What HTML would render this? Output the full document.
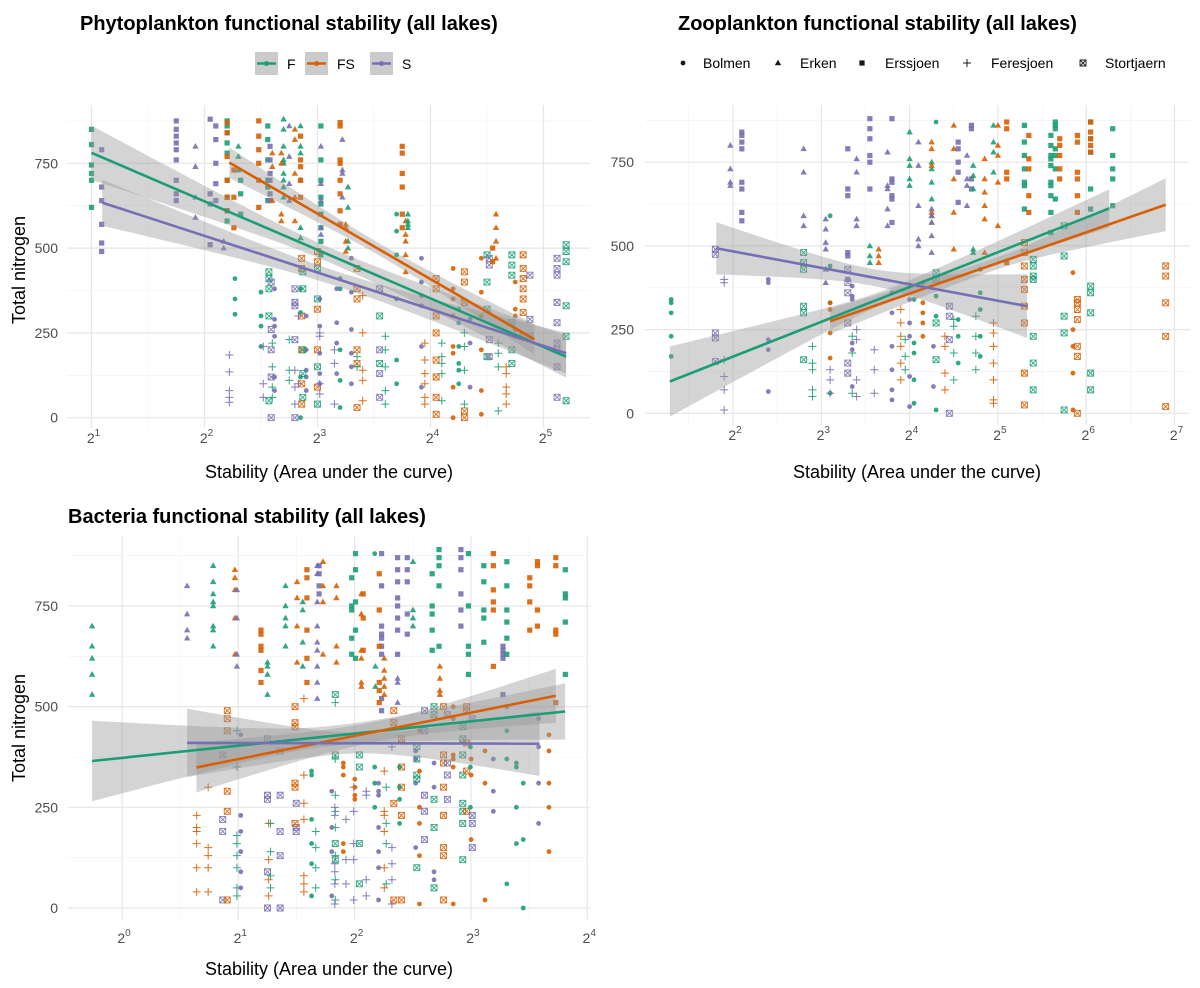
<!DOCTYPE html>
<html><head><meta charset="utf-8"><title>Functional stability vs total nitrogen</title>
<style>
html,body{margin:0;padding:0;background:#fff;}
svg{display:block;font-family:"Liberation Sans",Arial,sans-serif;}
</style></head>
<body>
<svg id="chart" width="1200" height="988" viewBox="0 0 1200 988" xmlns="http://www.w3.org/2000/svg">
<rect x="0" y="0" width="1200" height="988" fill="#ffffff"/>
<text x="80" y="30" font-size="20" font-weight="bold" fill="#000">Phytoplankton functional stability (all lakes)</text>
<text x="678" y="30" font-size="20" font-weight="bold" fill="#000">Zooplankton functional stability (all lakes)</text>
<text x="68" y="523" font-size="20" font-weight="bold" fill="#000">Bacteria functional stability (all lakes)</text>
<g id="legend1"></g>
<g id="legend2"></g>
<g id="p1"></g>
<g id="p2"></g>
<g id="p3"></g>
</svg>
<script>
// ---- data ----
const groupNames = ["F","FS","S"];
const groupColors = ["#1b9e77","#d95f02","#7570b3"];
const lakeNames = ["Bolmen","Erken","Erssjoen","Feresjoen","Stortjaern"];
const yTicks = [0,250,500,750];
// columns: [log2 stability, group, lake, [total nitrogen values]]
const phytoColumns = [
[1.0,0,2,[850,805,745,720,700,620]],[1.09,2,2,[790,680,640,570,515,490]],
[1.75,2,2,[875,850,830,810,790,760,700,660,640]],[1.92,2,1,[800,740,650,590]],
[2.05,2,2,[880,660,630,510]],[2.1,2,2,[860,820,750,690,640]],[2.17,2,1,[520,500]],
[2.2,0,2,[875,860,840,810,780,700,650,610,580]],[2.2,1,2,[870,840,770,700,650,610]],
[2.3,0,1,[800,770,730]],[2.26,1,2,[730,650,560]],[2.27,0,0,[410,350,305]],
[2.22,2,3,[185,135,80,60,45]],[2.32,0,2,[700,660,600]],[2.48,1,2,[875,830,790,750,700,620]],
[2.5,0,0,[370,300,270,210]],[2.52,2,3,[210,100,60]],[2.56,0,2,[860,820,760,700,680,640]],
[2.58,2,2,[800,760,720,700,660,640]],[2.6,1,1,[780,740,640]],[2.57,0,4,[430,410,380,300,50]],
[2.59,2,4,[400,260,200,120,0]],[2.62,2,0,[380,290,270,240,120,80]],[2.6,0,3,[220,150,90,60]],
[2.7,0,1,[880,850,800,760,750,720,700,680,650]],[2.68,1,1,[780,750,600,580]],
[2.75,2,1,[860,770,690,640]],[2.75,0,3,[230,140,110]],[2.8,2,3,[140,90,40]],
[2.8,1,1,[850,820,720,650,580]],[2.85,0,1,[860,800,780,700,560,530]],
[2.85,1,2,[830,760,740,700,650]],[2.86,1,4,[470,440,300,200,100,40]],
[2.8,2,4,[380,340,330,230,0]],[2.85,0,0,[380,310,120,0]],[2.9,2,0,[300,200,140,120,80]],
[2.87,0,4,[430,380,200,130,60]],[2.83,2,3,[300,100]],
[3.03,0,2,[860,760,700,650,630,600,560,520,480]],[3.0,0,4,[440,350,150,40]],
[3.0,1,4,[490,460,320,200,90]],[3.02,2,0,[350,270,190,130,100]],[3.02,2,3,[250,240,100,70]],
[3.03,2,1,[800,690,640,560,540]],[3.2,1,2,[870,860,760,750,700,660,610,570]],
[3.22,2,1,[820,730,720,650]],[3.27,0,1,[680,620,520,500]],[3.25,1,1,[570,560,520,490]],
[3.15,2,3,[200,160,40]],[3.2,0,0,[410,380,200,110,30]],[3.17,2,0,[380,280,220,130]],
[3.3,2,0,[470,370,260,190,150,100]],[3.35,1,4,[440,380,350,200,160,30]],[3.35,0,3,[180,150]],
[3.4,1,3,[360,250,140,110,50]],[3.55,0,4,[300,160]],[3.55,2,4,[380,200,130,60]],
[3.6,0,3,[240,200,150,80,40]],[3.7,0,0,[600,550,480,350,170,100]],
[3.75,1,2,[800,780,720,680,600,560]],[3.78,1,1,[580,540,520,480,430]],[3.8,0,1,[600,580,570,560]],
[3.92,2,0,[470,400,360,330,210,90]],[3.95,1,3,[220,170,130,100,60,40]],
[4.05,1,4,[410,380,300,250,170,120,60,10]],[4.1,0,3,[220,180,160,130,50]],
[4.2,1,0,[440,380,350,300,210,190,90,0]],[4.25,0,0,[320,280,210,160,140,100]],
[4.3,1,4,[430,400,340,20,0]],[4.3,0,3,[250,210,140,40]],[4.35,2,0,[290,220,90]],
[4.45,1,0,[470,370,300,200,80,10]],[4.5,0,4,[480,400,320,180]],[4.52,2,4,[470,450,230,180]],
[4.55,1,2,[500,460]],[4.58,1,1,[600,560,520,470]],[4.6,0,3,[220,190,150,20]],
[4.67,1,3,[150,130,90,70,40]],[4.72,0,4,[480,450,420,280,200,160]],[4.75,1,0,[400,320,300,260,240]],
[4.82,1,4,[480,440,410,380,350,310,240]],[4.88,2,4,[420,290,240]],
[5.12,2,4,[470,440,420,340,280,220,200,150,60]],[5.2,0,4,[510,490,460,330,240,50]]
];
const zooColumns = [
[1.3,0,0,[340,330,300,230,170]],[1.8,2,4,[490,475,240,225,155]],[1.9,2,3,[400,390,160,110,70,10]],
[1.97,2,1,[800,730,690,680]],[2.1,2,2,[840,830,810,790,690,670,600,575]],[2.4,2,0,[400,390,220,190,65]],
[2.8,2,1,[790,720,590,560]],[2.8,0,4,[480,450,430,320,300,160]],[2.9,0,3,[200,150,130,70,50]],
[3.05,2,1,[580,550,510,490,430,390]],[3.1,0,0,[590,440,330,60]],[3.1,1,0,[330,310,240,165]],
[3.1,2,3,[130,100,60]],[3.3,2,2,[790,670,650,480,470,400]],[3.3,2,4,[430,390,360,270,150,120]],
[3.35,0,3,[230,180,60]],[3.4,2,3,[250,220,100,50]],[3.4,2,1,[760,720,580,560]],
[3.35,2,0,[380,350,340,210,190,80]],[3.55,2,2,[880,850,820,770,750,670]],[3.55,0,1,[500,470,450]],
[3.65,1,1,[490,470,450]],[3.6,2,3,[190,130,60]],[3.8,2,0,[360,300,200,130,70,40]],
[3.8,2,2,[880,700,690,650,640,570]],[3.75,2,1,[780,680,670,610,560]],[3.9,1,3,[310,270,230,200,150,100]],
[3.95,0,3,[220,170,130]],[4.05,0,0,[340,210,180,100,30]],[4.0,2,0,[340,270,230,110,20]],
[4.0,0,1,[840,760,740,700,680]],[4.1,2,1,[810,740,620,520,500]],[4.15,1,0,[390,330,300,270,230]],
[4.3,0,4,[420,400,270,160]],[4.25,0,1,[750,730,690,640,590]],[4.25,1,1,[810,790,740,600,570]],
[4.25,2,1,[610,590,570,530,480]],[4.3,0,0,[870,350,290,10]],[4.4,1,3,[230,200,120,70]],
[4.45,2,4,[320,290,220,0]],[4.27,2,0,[200,80]],[4.5,1,1,[860,790,700,600,490]],
[4.5,0,3,[280,260,180,100]],[4.55,2,2,[810,790,750,720,630]],[4.55,0,0,[280,230,150]],
[4.7,2,2,[860,850,700,670]],[4.72,0,1,[740,710,670,490,480]],[4.65,2,1,[770,700,680,620]],
[4.85,1,1,[760,700,660,620,580,480]],[4.8,0,0,[430,360,310,230,170]],[4.75,0,3,[290,230,180,130]],
[5.0,1,1,[860,800,770,690,560]],[4.95,0,1,[860,810,780,720]],[4.95,1,3,[270,240,200,150,100,40,30]],
[5.1,1,2,[870,850,720,700,450]],[5.3,0,2,[860,810,770,730,690,680,610]],
[5.35,1,2,[830,760,730,650,600]],[5.3,1,4,[510,480,440,400,370,320,270,120,25]],
[5.4,0,4,[460,440,410,400,230,150,70]],[5.6,0,2,[830,800,770,760,740,690,680,650,600,540]],
[5.65,0,2,[870,860,850,790,770,730,640]],[5.7,1,2,[820,800,770,730,700]],
[5.75,0,4,[560,470,290,240,10]],[5.85,1,0,[420,250,200,120,10]],[5.9,1,2,[830,810,720,700,650,600]],
[5.9,1,4,[340,330,310,280,200,170,0]],[6.05,0,2,[870,820,780,670,610]],
[6.05,1,2,[870,840,820,800,780]],[6.05,0,4,[380,360,300,120,70]],[6.3,0,2,[850,770,730,700,620]],
[6.9,1,4,[440,410,330,230,20]]
];
const bactColumns = [
[-0.257,0,1,[700,650,620,580,530]],[0.56,2,1,[800,730,690,670]],[0.784,0,1,[850,810,780,760,750,700,690,650]],
[0.642,1,3,[230,200,190,160,100,40]],[0.741,1,3,[300,150,130,100,40]],[0.866,2,4,[380,220,190,20]],
[0.905,1,4,[490,470,440,290,240,20]],[0.971,1,1,[840,820,790,720,630]],[0.988,2,1,[790,720,630,600]],
[0.988,0,3,[440,350,180,160,130,100,50,30]],[1.021,2,0,[430,230,190,140,90,50]],
[1.195,1,2,[690,680,650,640,590,560]],[1.251,0,1,[610,600,580,530]],[1.251,2,4,[420,280,270,90,0]],
[1.261,1,3,[210,120,70,30]],[1.277,0,3,[210,140,80,50]],[1.36,2,4,[390,280,190,130,0]],
[1.406,0,1,[800,750,720,700,650]],[1.505,1,1,[810,770,700,610]],[1.498,2,4,[260,200,190]],
[1.488,1,4,[500,460,450,310,300,210]],[1.554,0,1,[760,740,660,600]],[1.59,1,2,[840,820,770,690,620,560]],
[1.564,1,3,[520,330,260,220,80,60,40]],[1.63,0,0,[340,330,220,160,110,30]],[1.666,0,3,[190,150,100,50]],
[1.679,2,1,[850,830,760,700,660,640,600,560,520]],[1.695,2,2,[850,830,800,780]],
[1.728,1,1,[860,800,760,630]],[1.834,0,3,[510,370,280,240,200,130,70,20]],[1.804,2,0,[290,200,140,30]],
[1.844,1,1,[800,770,650,610]],[1.83,2,3,[250,230,110,90,60,10]],[1.834,0,4,[530,380,160,120]],
[1.903,1,0,[360,350,330,160,140]],[1.926,2,3,[220,120,60]],[1.975,0,2,[820,750,740,670,630]],
[2.008,0,2,[880,840,760,690,620]],[1.992,2,3,[300,240,160,120,20]],[2.002,1,0,[320,300,280,270]],
[2.041,0,4,[380,350,160,60]],[2.058,1,1,[780,730,640,620,560,550]],[2.074,1,2,[780,720,640]],
[2.1,2,3,[290,280,70,30]],[2.173,0,0,[880,350,310,250]],[2.179,0,1,[600,550]],
[2.232,2,2,[880,800,700,680,670,650,630,520,490]],[2.212,1,2,[830,740,650,560,540,510]],
[2.255,1,1,[620,590,570,550,530]],[2.206,2,0,[310,290,280,200,140,100,20]],
[2.255,1,3,[340,240,230,190,100,50]],[2.272,0,3,[300,210,160,60]],[2.321,2,3,[400,150,110,70,10]],
[2.37,2,2,[870,840,810,770,750,720,690,630]],[2.37,2,1,[570,560,510]],[2.337,1,4,[490,460,260,20]],
[2.403,1,4,[420,350,300,230,20]],[2.387,0,0,[350,300,270,210]],[2.502,0,1,[860,740,720,700]],
[2.453,2,2,[870,840,810,730,680]],[2.535,0,4,[400,370,330,320,100]],[2.525,2,0,[370,390,310,150]],
[2.558,1,0,[440,340,250,210,130,10]],[2.667,0,2,[830,750,730,690,640]],[2.683,0,4,[500,480,270,200,50]],
[2.601,2,4,[490,440,280,240,170]],[2.683,2,0,[360,300,90,70]],[2.726,0,2,[890,870,850,800,650]],
[2.733,1,1,[600,570,540,530]],[2.765,1,4,[500,380,360,300,230,150,130,20]],[2.798,2,4,[480,360,330,270]],
[2.848,1,0,[500,470,380,370,350,10]],[2.914,2,2,[890,870,840,780,740,700]],
[2.93,0,4,[450,420,380,330,260,240,210,120]],[2.963,1,4,[500,490,410,340,240]],
[2.979,0,2,[880,750,650,630,580]],[2.996,0,0,[400,350,250]],[3.002,1,0,[370,330,170]],
[3.012,2,4,[470,230,210,150]],[3.111,0,2,[850,810,740,720,660]],[3.121,1,0,[390,310,20]],
[3.193,1,2,[880,850,790,760,740,600]],[3.276,2,2,[650,640,630,620,530]],[3.193,2,0,[370,290,240]],
[3.309,0,2,[860,800,740,710,670,630]],[3.309,0,0,[500,440,370,60]],[3.391,0,0,[360,350,250,160]],
[3.45,0,0,[310,170,0]],[3.506,1,2,[820,800,760,690]],[3.572,1,2,[860,850,740,700]],
[3.582,2,0,[470,400,310,210]],[3.671,1,0,[430,390,310,250,140]],[3.73,1,2,[870,850,690,680,510]],
[3.812,0,2,[840,780,770,710,580]]
];
// fits: [x0(log2), y0, x1(log2), y1, CI half-width left, middle, right] per group F, FS, S
const phytoFits = [[1.0,781,5.2,180,80,22,62],[2.22,752,4.92,231,45,18,45],[1.095,634,5.2,190,68,22,60]];
const zooFits = [[1.285,95,6.26,612,105,20,57],[3.1,275,6.9,623,38,18,79],[1.81,493,5.33,320,78,25,95]];
const bactFits = [[-0.257,365,3.81,488,100,25,70],[0.64,349,3.73,527,62,25,67],[0.56,410,3.59,408,85,25,80]];
// ---- drawing ----
const NS="http://www.w3.org/2000/svg";
function mk(tag, attrs, parent){const e=document.createElementNS(NS,tag);for(const k in attrs)e.setAttribute(k,attrs[k]);if(parent)parent.appendChild(e);return e;}
function marker(g,x,y,lake,color){
  let m;
  if(lake===0){m=mk("circle",{cx:x,cy:y,r:2.4,fill:color},g);}
  else if(lake===1){m=mk("polygon",{points:`${x},${y-3.4} ${x-3.2},${y+2.3} ${x+3.2},${y+2.3}`,fill:color},g);}
  else if(lake===2){m=mk("rect",{x:x-2.6,y:y-2.6,width:5.2,height:5.2,fill:color},g);}
  else if(lake===3){m=mk("path",{d:`M${x-4},${y}H${x+4}M${x},${y-4}V${y+4}`,stroke:color,"stroke-width":1,fill:"none"},g);}
  else {m=mk("path",{d:`M${x-3},${y-3}h6v6h-6zM${x-3},${y-3}l6,6M${x+3},${y-3}l-6,6`,stroke:color,"stroke-width":0.9,fill:"none"},g);}
  
  
  m.setAttribute('opacity','0.9');
}
function drawPanel(id, P){
  const g=document.getElementById(id);
  const sx=l=>P.x0+(l-P.l0)*P.kx, sy=v=>P.y0-v*P.ky;
  const A=P.area;
  for(let l=Math.ceil(P.lmin*2)/2;l<=P.lmax;l+=0.5){
    const major=Math.abs(l-Math.round(l))<1e-6;
    const ln=mk("line",{x1:sx(l),x2:sx(l),y1:A.y0,y2:A.y1,stroke:major?"#e6e6e6":"#f1f1f1","stroke-width":major?1.2:0.6},g);
    
    
  }
  for(let v=-125;v<=1000;v+=125){
    const py=sy(v); if(py<A.y0||py>A.y1) continue;
    const major=v%250===0;
    const ln=mk("line",{x1:A.x0,x2:A.x1,y1:py,y2:py,stroke:major?"#e6e6e6":"#f1f1f1","stroke-width":major?1.2:0.6},g);
    
    
  }
  yTicks.forEach(v=>{
    const t=mk("text",{x:P.ylabX,y:sy(v)+5,"text-anchor":"end","font-size":14,fill:"#4d4d4d"},g);
    t.textContent=v;
    
    
  });
  for(let l=Math.ceil(P.lmin);l<=P.lmax;l++){
    const t=mk("text",{x:sx(l)+2,y:P.xlabY,"text-anchor":"middle","font-size":14,fill:"#4d4d4d"},g);
    t.appendChild(document.createTextNode("2"));
    const s=mk("tspan",{dy:-7,"font-size":10},t); s.textContent=l;
    
    
  }
  P.cols.forEach(c=>{c[3].forEach(v=>marker(g,sx(c[0]),sy(v),c[2],groupColors[c[1]]));});
  P.fits.forEach((f,i)=>{
    const [a,ya,b,yb,eL,eM,eR]=f, lc=(a+b)/2, half=(b-a)/2;
    const up=[],dn=[];
    for(let k=0;k<=40;k++){
      const l=a+(b-a)*k/40, y=ya+(yb-ya)*k/40, t=(l-lc)/half;
      const e=t<0?eL:eR; const w=Math.sqrt(eM*eM+(e*e-eM*eM)*t*t);
      up.push(sx(l)+","+sy(y+w)); dn.unshift(sx(l)+","+sy(y-w));
    }
    const r=mk("polygon",{points:up.concat(dn).join(" "),fill:"#999999","fill-opacity":0.42},g);
    
    
  });
  P.fits.forEach((f,i)=>{
    const ln=mk("line",{x1:sx(f[0]),y1:sy(f[1]),x2:sx(f[2]),y2:sy(f[3]),stroke:groupColors[i],"stroke-width":2.6},g);
    
    
  });
  const xt=mk("text",{x:P.xtitleX,y:P.xtitleY,"text-anchor":"middle","font-size":18,fill:"#000"},g);
  xt.textContent="Stability (Area under the curve)";
  
  
  if(P.ytitle){
    const yt=mk("text",{x:0,y:0,"text-anchor":"middle","font-size":18,fill:"#000",transform:`translate(25,${P.ytitleY}) rotate(-90)`},g);
    yt.textContent="Total nitrogen";
    
    
  }
}
drawPanel("p1",{x0:91.5,l0:1,kx:113,y0:417.7,ky:0.3392,lmin:0.8,lmax:5.4,area:{x0:67,x1:590,y0:105,y1:428},
  cols:phytoColumns,fits:phytoFits,ylabX:58,xlabY:443,xtitleX:329,xtitleY:478,ytitle:true,ytitleY:270});
drawPanel("p2",{x0:733,l0:2,kx:88.3,y0:413.3,ky:0.3348,lmin:1.05,lmax:7.3,area:{x0:645,x1:1190,y0:105,y1:425},
  cols:zooColumns,fits:zooFits,ylabX:634,xlabY:440,xtitleX:917,xtitleY:478,ytitle:false});
drawPanel("p3",{x0:122,l0:0,kx:116.3,y0:908,ky:0.4027,lmin:-0.46,lmax:4.02,area:{x0:68,x1:590,y0:536,y1:920},
  cols:bactColumns,fits:bactFits,ylabX:58,xlabY:943,xtitleX:329,xtitleY:975,ytitle:true,ytitleY:728});
(function(){
  const g=document.getElementById("legend1");
  const xs=[255,305,370], tx=[287,337,402];
  groupNames.forEach((n,i)=>{
    const k=mk("g",{},g);
    
    
    mk("rect",{x:xs[i],y:52,width:23,height:23,fill:"#cbcbcb"},k);
    mk("line",{x1:xs[i]+2,x2:xs[i]+21,y1:63.5,y2:63.5,stroke:groupColors[i],"stroke-width":2.6},k);
    mk("circle",{cx:xs[i]+11.5,cy:63.5,r:2.4,fill:groupColors[i]},k);
    const t=mk("text",{x:tx[i],y:69,"font-size":14,fill:"#000"},k); t.textContent=n;
  });
})();
(function(){
  const g=document.getElementById("legend2");
  const mx=[683,778,862,967,1083], tx=[703,800,885,991,1105];
  lakeNames.forEach((n,i)=>{
    const k=mk("g",{},g);
    
    
    marker(k,mx[i],63,i,"#000");
    const t=mk("text",{x:tx[i],y:68,"font-size":14,fill:"#000"},k); t.textContent=n;
  });
})();
</script>
</body></html>
